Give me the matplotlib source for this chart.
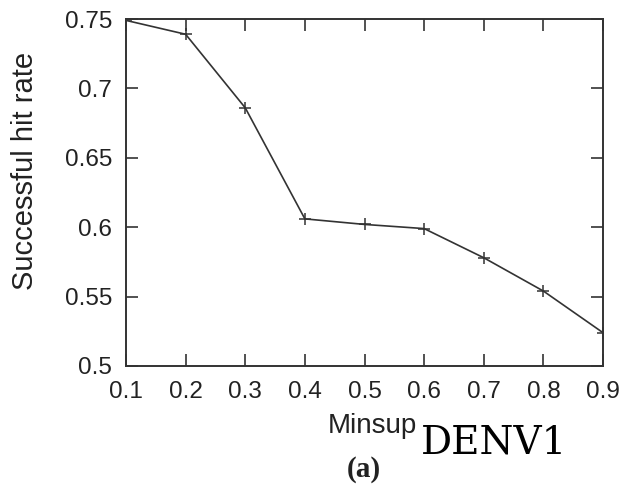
import numpy as np
import matplotlib
matplotlib.use("Agg")
import matplotlib.pyplot as plt

# 最小支持度与命中率
minsup = [0.1, 0.2, 0.3, 0.4, 0.5, 0.6, 0.7, 0.8, 0.9]
hit_rate = [0.749, 0.739, 0.686, 0.606, 0.602, 0.599, 0.578, 0.554, 0.524]
xticks = [0.1, 0.2, 0.3, 0.4, 0.5, 0.6, 0.7, 0.8, 0.9]
yticks = [0.5, 0.55, 0.6, 0.65, 0.7, 0.75]
ytick_labels = ["0.5", "0.55", "0.6", "0.65", "0.7", "0.75"]

plt.rcParams['font.family'] = ['Liberation Sans', 'DejaVu Sans']

W, H = 621, 484
fig = plt.figure(figsize=(W/100, H/100), dpi=100)
ax = fig.add_axes([126/W, 1-366/H, (603-126)/W, (366-19)/H])

ax.plot(minsup, hit_rate, color='#333333', lw=1.2, marker='+', ms=9, mew=1.1)

ax.set_xlim(0.1, 0.9)
ax.set_ylim(0.5, 0.75)
ax.set_xticks(xticks)
ax.set_xticklabels([str(v) for v in xticks])
ax.set_yticks(yticks)
ax.set_yticklabels(ytick_labels)
ax.tick_params(direction='in', length=8.5, width=1.2, color='#333333',
               top=True, right=True, labelsize=17.5,
               labelcolor='#222222')
ax.tick_params(axis='x', pad=11)
ax.tick_params(axis='y', pad=10)
for s in ax.spines.values():
    s.set_linewidth(1.4)
    s.set_color('#333333')

# 坐标轴标题
fig.text(25/W, 1-171/H, "Successful hit rate", fontsize=21, rotation=90,
         ha='center', va='center', color='#222222')
fig.text(372/W, 1-433/H, "Minsup", fontsize=20, ha='center', va='baseline',
         color='#222222')
fig.text(421/W, 1-453/H, "DENV1", fontsize=28, family='DejaVu Serif',
         ha='left', va='baseline')
fig.text(364/W, 1-477/H, "(a)", fontsize=21, family='Liberation Serif',
         weight='bold', ha='center', va='baseline', color='#222222')

fig.savefig("out.png", dpi=100)
